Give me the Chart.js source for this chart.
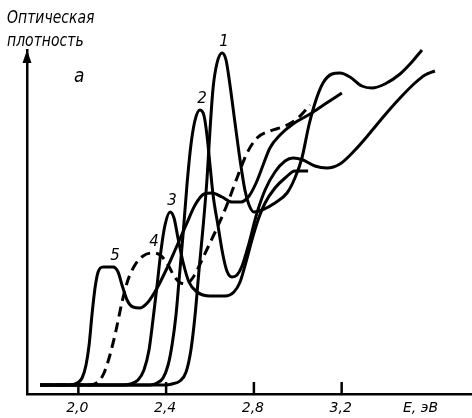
<!DOCTYPE html>
<html>
<head>
<meta charset="utf-8">
<script src="https://cdn.jsdelivr.net/npm/chart.js@4.4.1/dist/chart.umd.min.js"></script>
<style>
  html, body { margin: 0; padding: 0; background: #fff; }
  canvas { display: block; }
</style>
</head>
<body>
<canvas id="myChart" width="472" height="418"></canvas>
<script>
// photon energy, eV
var e1 = [1.826, 2.395, 2.427, 2.463, 2.491, 2.513, 2.532, 2.550, 2.568, 2.586, 2.600, 2.614, 2.632, 2.655, 2.673, 2.691, 2.714, 2.737, 2.759, 2.778, 2.800, 2.837, 2.896, 2.951, 2.987, 3.019, 3.051, 3.083, 3.115, 3.156, 3.192, 3.238, 3.292, 3.338, 3.397, 3.466, 3.520, 3.566];
// optical density, arbitrary units
var d1 = [0, 0, 0.01, 0.04, 0.13, 0.35, 0.70, 1.15, 1.57, 2.05, 2.55, 2.97, 3.22, 3.32, 3.25, 3.00, 2.62, 2.25, 1.95, 1.80, 1.73, 1.75, 1.82, 1.92, 2.07, 2.27, 2.60, 2.85, 3.02, 3.11, 3.12, 3.08, 2.99, 2.97, 3.01, 3.11, 3.23, 3.35];

var e2 = [1.826, 2.327, 2.359, 2.386, 2.409, 2.427, 2.445, 2.459, 2.477, 2.495, 2.513, 2.532, 2.554, 2.573, 2.586, 2.600, 2.614, 2.636, 2.659, 2.677, 2.700, 2.723, 2.746, 2.773, 2.814, 2.851, 2.896, 2.942, 2.978, 3.024, 3.078, 3.133, 3.192, 3.261, 3.329, 3.397, 3.466, 3.534, 3.580, 3.625];
var d2 = [0, 0, 0.02, 0.07, 0.20, 0.40, 0.70, 1.05, 1.50, 2.00, 2.40, 2.65, 2.75, 2.69, 2.50, 2.20, 1.90, 1.60, 1.30, 1.14, 1.08, 1.10, 1.19, 1.38, 1.72, 1.95, 2.13, 2.24, 2.27, 2.25, 2.19, 2.17, 2.21, 2.35, 2.52, 2.70, 2.87, 3.02, 3.10, 3.14];

var e3 = [1.826, 2.190, 2.236, 2.272, 2.299, 2.322, 2.340, 2.359, 2.377, 2.395, 2.418, 2.436, 2.454, 2.477, 2.504, 2.541, 2.600, 2.668, 2.709, 2.737, 2.764, 2.791, 2.819, 2.851, 2.896, 2.942, 2.987, 3.047];
var d3 = [0, 0, 0.01, 0.05, 0.15, 0.35, 0.65, 1.00, 1.35, 1.60, 1.73, 1.67, 1.47, 1.23, 1.03, 0.93, 0.89, 0.89, 0.93, 1.03, 1.23, 1.45, 1.65, 1.82, 1.97, 2.07, 2.14, 2.14];

var e4 = [1.826, 2.053, 2.090, 2.117, 2.144, 2.172, 2.199, 2.226, 2.258, 2.295, 2.336, 2.372, 2.404, 2.431, 2.459, 2.491, 2.527, 2.559, 2.591, 2.632, 2.677, 2.723, 2.769, 2.814, 2.873, 2.942, 3.001, 3.056];
var d4 = [0, 0, 0.03, 0.12, 0.30, 0.55, 0.83, 1.05, 1.20, 1.29, 1.32, 1.30, 1.22, 1.11, 1.03, 1.01, 1.09, 1.23, 1.38, 1.57, 1.80, 2.07, 2.32, 2.47, 2.54, 2.59, 2.67, 2.80];

var e5 = [1.826, 1.962, 1.994, 2.017, 2.035, 2.049, 2.062, 2.076, 2.090, 2.113, 2.158, 2.181, 2.199, 2.222, 2.249, 2.281, 2.318, 2.359, 2.400, 2.445, 2.491, 2.532, 2.573, 2.609, 2.655, 2.700, 2.741, 2.778, 2.810, 2.842, 2.873, 2.919, 2.978, 3.056, 3.124, 3.201];
var d5 = [0, 0, 0.02, 0.07, 0.20, 0.40, 0.70, 0.97, 1.13, 1.18, 1.18, 1.13, 1.00, 0.85, 0.78, 0.77, 0.83, 0.97, 1.15, 1.37, 1.60, 1.80, 1.91, 1.92, 1.88, 1.83, 1.83, 1.89, 2.02, 2.20, 2.37, 2.50, 2.61, 2.71, 2.81, 2.92];

var curveNames = ['1', '2', '3', '4', '5'];
var tickValues = [2.0, 2.4, 2.8, 3.2];
var yTitle = ['Оптическая', 'плотность'];
var xTitle = 'E, эВ';
var panelLetter = 'а';

var textFont = '"DejaVu Sans", sans-serif';

function toPoints(e, d) {
  return e.map(function (x, i) { return { x: x, y: d[i] }; });
}

function series(name, e, d, dash) {
  return {
    label: name,
    data: toPoints(e, d),
    borderColor: '#000',
    borderWidth: 3,
    borderDash: dash || [],
    borderJoinStyle: 'round',
    pointRadius: 0,
    fill: false,
    cubicInterpolationMode: 'monotone',
    clip: false
  };
}

// lettering in a tall drafting style: stretched a little vertically
function tallText(ctx, text, x, y, stretch) {
  ctx.save();
  ctx.translate(x, y);
  ctx.scale(1, stretch);
  ctx.fillText(text, 0, 0);
  ctx.restore();
}

// inward ticks, tick labels, axis arrow, captions and curve numbers
var decorations = {
  id: 'decorations',
  afterDraw: function (chart) {
    var ctx = chart.ctx, xs = chart.scales.x, ys = chart.scales.y, area = chart.chartArea;
    ctx.save();
    ctx.strokeStyle = '#000';
    ctx.fillStyle = '#000';
    ctx.lineWidth = 2.5;

    ctx.font = 'italic 14px ' + textFont;
    ctx.textAlign = 'center';
    ctx.textBaseline = 'alphabetic';
    tickValues.forEach(function (v) {
      var px = xs.getPixelForValue(v);
      ctx.beginPath();
      ctx.moveTo(px, area.bottom);
      ctx.lineTo(px, area.bottom - 12);
      ctx.stroke();
      tallText(ctx, v.toFixed(1).replace('.', ','), px - 1, area.bottom + 18, 1.05);
    });

    var ax = area.left;
    ctx.beginPath();
    ctx.moveTo(ax, area.top);
    ctx.lineTo(ax - 4.5, area.top + 13);
    ctx.lineTo(ax + 4.5, area.top + 13);
    ctx.closePath();
    ctx.fill();

    ctx.textAlign = 'left';
    tallText(ctx, yTitle[0], 7, 23, 1.2);
    tallText(ctx, yTitle[1], 7, 46, 1.2);
    tallText(ctx, xTitle, 403, area.bottom + 18, 1.05);
    ctx.font = 'italic 17px ' + textFont;
    tallText(ctx, panelLetter, 74, 82, 1.1);

    // number each curve just above its first maximum
    ctx.font = 'italic 15px ' + textFont;
    ctx.textAlign = 'center';
    chart.data.datasets.forEach(function (ds) {
      var pts = ds.data, k = 1;
      while (k < pts.length - 1 && !(pts[k].y >= pts[k - 1].y && pts[k].y > pts[k + 1].y)) k++;
      tallText(ctx, ds.label, xs.getPixelForValue(pts[k].x) + 2, ys.getPixelForValue(pts[k].y) - 7, 1.05);
    });
    ctx.restore();
  }
};

var ctx = document.getElementById('myChart').getContext('2d');
var myChart = new Chart(ctx, {
  type: 'line',
  data: {
    datasets: [
      series(curveNames[0], e1, d1),
      series(curveNames[1], e2, d2),
      series(curveNames[2], e3, d3),
      series(curveNames[3], e4, d4, [10, 6]),
      series(curveNames[4], e5, d5)
    ]
  },
  options: {
    responsive: false,
    animation: false,
    layout: { padding: { left: 27, top: 50, right: 0, bottom: 24 } },
    plugins: {
      legend: { display: false },
      tooltip: { enabled: false }
    },
    scales: {
      x: {
        type: 'linear',
        min: 1.766,
        max: 3.794,
        afterBuildTicks: function (scale) {
          scale.ticks = tickValues.map(function (v) { return { value: v }; });
        },
        ticks: { display: false },
        grid: { display: false, drawTicks: false },
        border: { display: true, color: '#000', width: 2.5 }
      },
      y: {
        min: -0.09,
        max: 3.35,
        ticks: { display: false },
        grid: { display: false, drawTicks: false },
        border: { display: true, color: '#000', width: 2.5 }
      }
    }
  },
  plugins: [decorations]
});
</script>
</body>
</html>
